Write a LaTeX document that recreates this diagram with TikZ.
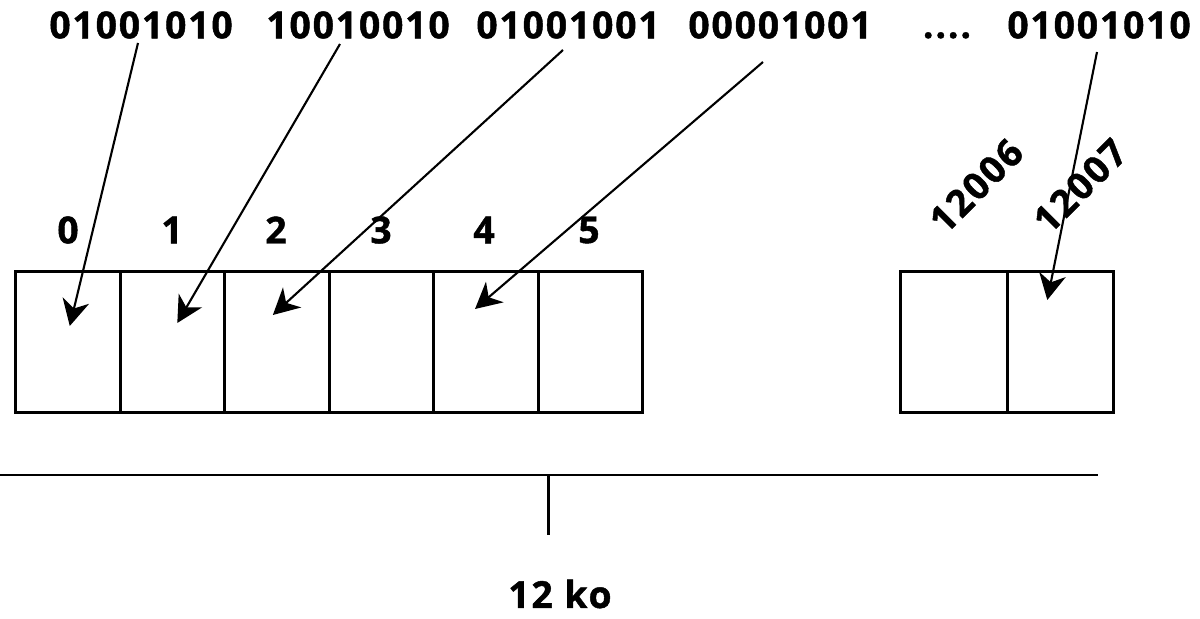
\documentclass[tikz,border=0pt]{standalone}
\usepackage{fontspec}
\setmainfont{Open Sans}[LetterSpace=5, BoldFeatures={FakeBold=1.2}]
\usetikzlibrary{arrows.meta,positioning}

\begin{document}
\begin{tikzpicture}[x=0.01cm, y=-0.01cm,
        every node/.style={font=\fontsize{10.6}{12}\selectfont\bfseries, inner sep=0pt},
        cell/.style={draw, line width=0.85pt, minimum width=1.045cm, minimum height=1.4cm, outer sep=0pt},
        ptr/.style={line width=0.6pt, -{Stealth[length=0.26cm, width=0.27cm, inset=0.08cm]}}]
        \useasboundingbox (0, 0) rectangle (1200, 619);

        % Bytes
        \node (b0) at (141, 25) {01001010};
        \node (b1) at (358, 25) {10010010};
        \node (b2) at (568, 25) {01001001};
        \node (b3) at (780, 25) {00001001};
        \node[anchor=base] (dots) at (947, 38) {....};
        \node (b5) at (1099, 25) {01001010};

        % Cells
        \node[cell] (c0) at (67.75, 342) {};
        \node[cell, right=0pt of c0] (c1) {};
        \node[cell, right=0pt of c1] (c2) {};
        \node[cell, right=0pt of c2] (c3) {};
        \node[cell, right=0pt of c3] (c4) {};
        \node[cell, right=0pt of c4] (c5) {};

        \node[cell, minimum width=1.065cm] (c12006) at (953.75, 342) {};
        \node[cell, minimum width=1.065cm, right=0pt of c12006] (c12007) {};

        % Indices
        \node (i0) at (68, 230) {0};
        \node (i1) at (172, 230) {1};
        \node (i2) at (276, 230) {2};
        \node (i3) at (381, 230) {3};
        \node (i4) at (484, 230) {4};
        \node (i5) at (589, 230) {5};
        \node[rotate=45] (i12006) at (976, 186) {12006};
        \node[rotate=45] (i12007) at (1080, 186) {12007};

        % Pointers
        \draw[ptr] ([shift={(-3, 18)}]b0.center) -- ([shift={(2, -16)}]c0.center);
        \draw[ptr] ([shift={(-18, 19)}]b1.center) -- ([shift={(5, -19)}]c1.center);
        \draw[ptr] ([shift={(-5, 25)}]b2.center) -- ([shift={(-4, -27)}]c2.center);
        \draw[ptr] ([shift={(-17, 37)}]b3.center) -- ([shift={(-11, -33)}]c4.center);
        \draw[ptr] ([shift={(-2, 27)}]b5.center) -- ([shift={(-13, -42)}]c12007.center);

        % Size
        \draw[line width=0.85pt] (0, 475) -- (1098, 475);
        \draw[line width=0.85pt] (548, 475) -- (548, 535);
        \node (size) at (560, 594) {12 ko};
    \end{tikzpicture}
\end{document}
